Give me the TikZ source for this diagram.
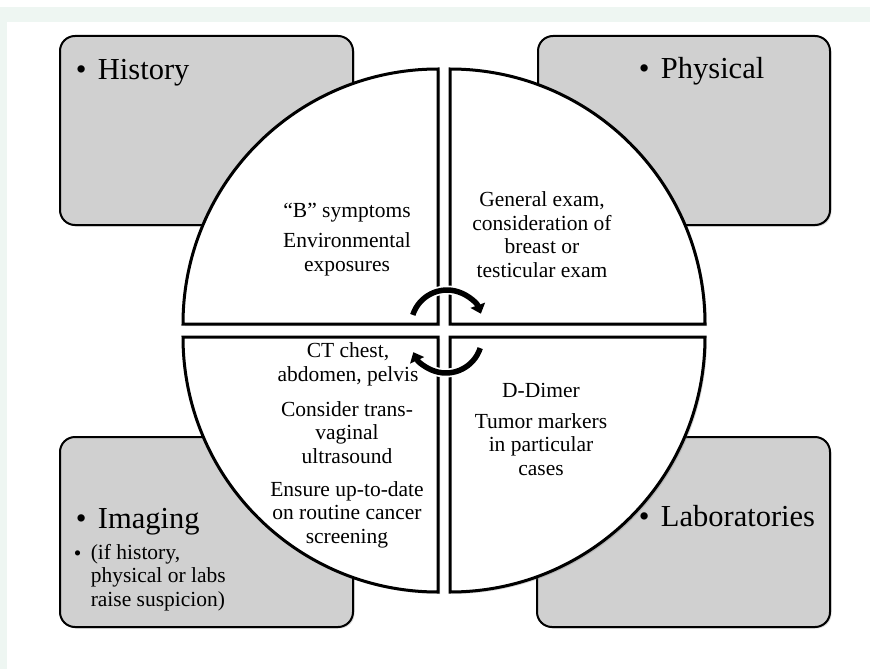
\documentclass[tikz,border=0pt]{standalone}
\usepackage{fontspec}
\setmainfont{Liberation Serif}
\usetikzlibrary{arrows.meta,shadows}
\definecolor{mint}{RGB}{238,246,242}
\definecolor{boxgray}{RGB}{208,208,208}
\newcommand{\headsize}{\fontsize{30.5}{36}\selectfont}
\newcommand{\notesize}{\fontsize{21.5}{23.4}\selectfont}
\tikzset{
  box/.style={fill=boxgray,draw=black,line width=2pt,rounded corners=15pt,
    drop shadow={shadow xshift=1.5pt,shadow yshift=-1.5pt,opacity=0.3}},
  quad/.style={fill=white,draw=black,line width=3pt,
    drop shadow={shadow xshift=2pt,shadow yshift=-2pt,opacity=0.3}},
  head/.style={anchor=base west,inner sep=0pt,font=\headsize},
  note/.style={anchor=base,inner sep=0pt,align=center,font=\notesize},
  turn/.style={line width=5.5pt,-{Triangle[width=15pt,length=9pt]},
    preaction={draw=white,line width=9pt}}
}
\begin{document}
\begin{tikzpicture}[x=1pt,y=-1pt,line width=1.5pt]
\useasboundingbox (0,0) rectangle (870,669);
\fill[white] (0,0) rectangle (870,669);
\fill[mint] (0,7) rectangle (870,22);
\fill[mint] (0,7) rectangle (7,669);
\draw[box] (60,36) rectangle (353,225);
\draw[box] (538,36) rectangle (830,225);
\draw[box] (60,437) rectangle (353,627);
\draw[box] (537,437) rectangle (830,627);
\filldraw[quad] (438,324) -- (183,324) arc[start angle=180,end angle=270,radius=255] -- cycle;
\filldraw[quad] (450,324) -- (450,69) arc[start angle=270,end angle=360,radius=255] -- cycle;
\filldraw[quad] (438,337) -- (183,337) arc[start angle=180,end angle=90,radius=255] -- cycle;
\filldraw[quad] (450,337) -- (705,337) arc[start angle=0,end angle=90,radius=255] -- cycle;
\draw[turn] (412.8,314.9) arc[start angle=198,end angle=340,radius=36];
\draw[turn] (480.2,348.1) arc[start angle=18,end angle=155,radius=36];
\node[head] (hist) at (75,79) {•\hspace{11.5pt}History};
\node[head] (phys) at (638,78) {•\hspace{11.5pt}Physical};
\node[head] (imag) at (75,528) {•\hspace{11.5pt}Imaging};
\node[head] (labs) at (638,526) {•\hspace{11.5pt}Laboratories};
\node[anchor=base west,inner sep=0pt,font=\notesize] (imagdot) at (73,560) {•};
\node[anchor=base west,inner sep=0pt,align=left,font=\notesize] (imagnote) at (90,606) {(if history,\\physical or labs\\raise suspicion)};
\node[note] (bsym) at (347,217) {“B” symptoms};
\node[note] (envx) at (347,271) {Environmental\\exposures};
\node[note] (genx) at (542,277) {General exam,\\consideration of\\breast or\\testicular exam};
\node[note] (ctscan) at (348,381) {CT chest,\\abdomen, pelvis};
\node[note] (tvus) at (347,463) {Consider trans-\\vaginal\\ultrasound};
\node[note] (screen) at (347,543) {Ensure up-to-date\\on routine cancer\\screening};
\node[note] (ddim) at (541,397) {D-Dimer};
\node[note] (tumor) at (541,475) {Tumor markers\\in particular\\cases};
\end{tikzpicture}
\end{document}
